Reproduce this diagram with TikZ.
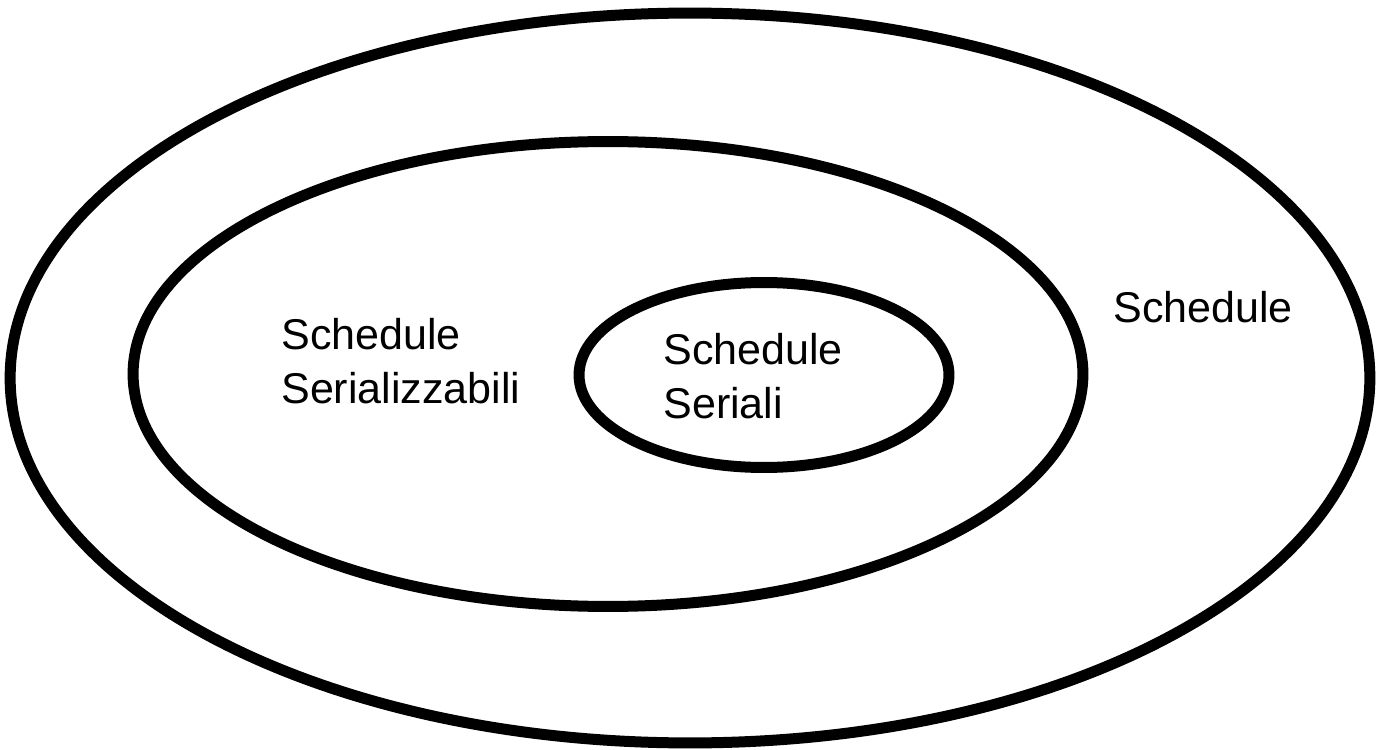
\documentclass[tikz,border=0pt]{standalone}
\usepackage{fontspec}
\setmainfont{Liberation Sans}
\usepackage{tikz}
\usetikzlibrary{shapes.geometric}

\begin{document}
\begin{tikzpicture}[
  x=0.02cm, y=-0.02cm,
  set/.style={draw, ellipse, line width=0.22cm, inner sep=0pt},
  label/.style={align=left, anchor=base west, inner sep=0pt, font=\fontsize{24.5}{30.6}\selectfont}
]
  \useasboundingbox (0,0) rectangle (1377,750);

  \node[set, minimum width=27.2cm, minimum height=14.6cm] (all) at (690,378) {};
  \node[set, minimum width=19.0cm, minimum height=9.3cm] (serializable) at (608,374) {};
  \node[set, minimum width=7.4cm, minimum height=3.7cm] (serial) at (764,375) {};

  % base anchor sits on the last line
  \node[label] (allText) at (1113,322) {Schedule};
  \node[label] (serializableText) at (281,403) {Schedule\\Serializzabili};
  \node[label] (serialText) at (663,418) {Schedule\\Seriali};
\end{tikzpicture}
\end{document}
